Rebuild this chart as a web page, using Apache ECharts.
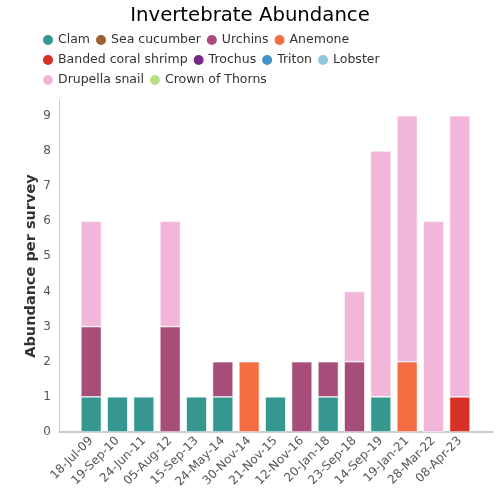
<!DOCTYPE html>
<html><head><meta charset="utf-8">
<script src="https://cdn.jsdelivr.net/npm/echarts@6/dist/echarts.min.js"></script>
<style>html,body{margin:0;padding:0;background:#fff}#c{width:500px;height:500px}</style>
</head><body><div id="c"></div>
<script>
var dates = ['18-Jul-09','19-Sep-10','24-Jun-11','05-Aug-12','15-Sep-13','24-May-14','30-Nov-14','21-Nov-15','12-Nov-16','20-Jan-18','23-Sep-18','14-Sep-19','19-Jan-21','28-Mar-22','08-Apr-23'];
var seriesNames = ['Clam','Sea cucumber','Urchins','Anemone','Banded coral shrimp','Trochus','Triton','Lobster','Drupella snail','Crown of Thorns'];
var seriesColors = ['#369690','#9a6232','#a64d79','#f46d43','#d73027','#762a83','#4393c3','#92c5de','#f1b6da','#b8e186'];
var clam      = [1,1,1,0,1,1,0,1,0,1,0,1,0,0,0];
var seaCucumber = [0,0,0,0,0,0,0,0,0,0,0,0,0,0,0];
var urchins   = [2,0,0,3,0,1,0,0,2,1,2,0,0,0,0];
var anemone   = [0,0,0,0,0,0,2,0,0,0,0,0,2,0,0];
var bandedShrimp = [0,0,0,0,0,0,0,0,0,0,0,0,0,0,1];
var trochus   = [0,0,0,0,0,0,0,0,0,0,0,0,0,0,0];
var triton    = [0,0,0,0,0,0,0,0,0,0,0,0,0,0,0];
var lobster   = [0,0,0,0,0,0,0,0,0,0,0,0,0,0,0];
var drupella  = [3,0,0,3,0,0,0,0,0,0,2,7,7,6,8];
var crownOfThorns = [0,0,0,0,0,0,0,0,0,0,0,0,0,0,0];
var yTicks = [0,1,2,3,4,5,6,7,8,9];
var yMax = 9.45;

var allData = [clam, seaCucumber, urchins, anemone, bandedShrimp, trochus, triton, lobster, drupella, crownOfThorns];
var font = 'DejaVu Sans';

var series = seriesNames.map(function(n,i){
  return {
    name: n, type: 'bar', stack: 'total', xAxisIndex: 0, yAxisIndex: 0,
    barCategoryGap: '22%',
    itemStyle: {color: seriesColors[i], borderColor: '#fff', borderWidth: 0.6},
    data: allData[i].map(function(v){ return v === 0 ? null : v; })
  };
});

var chart = echarts.init(document.getElementById('c'), null, {renderer:'canvas'});
chart.setOption({
  animation: false,
  backgroundColor: '#fff',
  color: seriesColors,
  title: {text: 'Invertebrate Abundance', left: 'center', top: 1,
    textStyle: {fontFamily: font, fontSize: 19.7, fontWeight: 'normal', color: '#000'}},
  legend: {
    left: 38, top: 30, width: 345, icon: 'circle', itemWidth: 10, itemHeight: 10, itemGap: 6,
    padding: [3,5,3,5],
    itemStyle: {borderWidth: 0},
    data: seriesNames,
    textStyle: {fontFamily: font, fontSize: 12.5, color: '#333', lineHeight: 14}
  },
  grid: [
    {left: 78, right: 27, top: 100, bottom: 68},
    {left: 59, right: 7, top: 100, bottom: 68}
  ],
  xAxis: [
    {type: 'category', gridIndex: 0, data: dates,
      axisLine: {show: false}, axisTick: {show: false},
      axisLabel: {rotate: 45, fontFamily: font, fontSize: 12, color: '#555', margin: 7}},
    {type: 'value', gridIndex: 1, min: 0, max: 1,
      axisLine: {show: true, lineStyle: {color: '#bbb', width: 1.5}}, axisTick: {show: false},
      axisLabel: {show: false}, splitLine: {show: false}}
  ],
  yAxis: [
    {type: 'value', gridIndex: 0, min: 0, max: yMax, interval: 1,
      axisLine: {show: false}, axisTick: {show: false}, axisLabel: {show: false}, splitLine: {show: false}},
    {type: 'value', gridIndex: 1, min: 0, max: yMax, interval: 1,
      name: 'Abundance per survey', nameLocation: 'middle', nameGap: 20, nameMoveOverlap: false,
      nameTextStyle: {fontFamily: font, fontSize: 14.5, fontWeight: 'bold', color: '#333'},
      axisLine: {show: true, lineStyle: {color: '#ccc', width: 1}}, axisTick: {show: false},
      axisLabel: {fontFamily: font, fontSize: 12, color: '#555', margin: 8, showMaxLabel: false,
        formatter: function(v){ return yTicks.indexOf(v) >= 0 ? String(v) : ''; }},
      splitLine: {show: false}}
  ],
  series: series
});
</script></body></html>
